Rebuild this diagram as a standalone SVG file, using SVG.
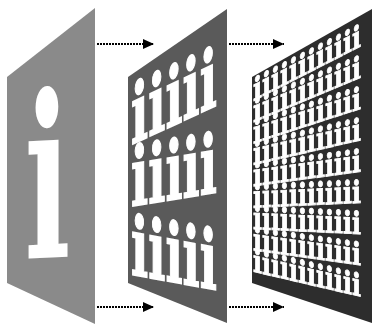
<svg xmlns="http://www.w3.org/2000/svg" width="373" height="324" viewBox="0 0 373 324">
<style>
.lt{font-family:"DejaVu Serif","Liberation Serif",serif;font-weight:bold;fill:#fff;stroke:#fff;stroke-linejoin:miter}
.r1{stroke-width:0}
.r2{font-size:82px;stroke-width:1.6px}
.r3{font-size:31px;stroke-width:0.9px}
.arw{stroke:#000;stroke-width:2;stroke-dasharray:2 1;fill:none}
</style>
<defs>
<marker id="ah" markerWidth="11" markerHeight="10" refX="11" refY="5" orient="auto" markerUnits="userSpaceOnUse">
<path d="M0,0 L11,5 L0,10 Z" fill="#000"/>
</marker>
<filter id="gray" x="0" y="0" width="373" height="324" filterUnits="userSpaceOnUse"><feOffset dx="0" dy="0"/></filter>
</defs>
<rect width="373" height="324" fill="#fff"/>
<g id="panel1">
<polygon points="7,77 95,8 95,324 7,283" fill="#8a8a8a"/>
<g transform="translate(51,42.5) matrix(1,-0.05,0,1,0,0)">
<text class="lt r1" x="-3.5" y="215" font-size="226" text-anchor="middle" textLength="46" lengthAdjust="spacingAndGlyphs">i</text>
</g>
</g>
<g id="panel2">
<polygon points="128,77 227,9 227,323 128,283" fill="#5a5a5a"/>
<g>
<g transform="translate(177.5,43) matrix(1,-0.46,0,1,0,0)"><text class="lt r2" x="-46.5" y="80.6" textLength="86" lengthAdjust="spacingAndGlyphs">iiiii</text></g>
<g transform="translate(177.5,43) matrix(1,-0.164,0,1,0,0)"><text class="lt r2" x="-46.5" y="156" textLength="86" lengthAdjust="spacingAndGlyphs">iiiii</text></g>
<g transform="translate(177.5,43) matrix(1,0.18,0,1,0,0)"><text class="lt r2" x="-46.5" y="240" textLength="86" lengthAdjust="spacingAndGlyphs">iiiii</text></g>
</g>
</g>
<g id="panel3">
<polygon points="252,77 372,9 372,323 252,283" fill="#2d2d2d"/>
<g filter="url(#gray)">
<g transform="translate(312,43) matrix(1,-0.509,0,1,0,0)"><text class="lt r3" x="-59" y="28.1" textLength="108" lengthAdjust="spacingAndGlyphs">iiiiiiiiiiii</text></g>
<g transform="translate(312,43) matrix(1,-0.417,0,1,0,0)"><text class="lt r3" x="-59" y="54.9" textLength="108" lengthAdjust="spacingAndGlyphs">iiiiiiiiiiii</text></g>
<g transform="translate(312,43) matrix(1,-0.324,0,1,0,0)"><text class="lt r3" x="-59" y="81.6" textLength="108" lengthAdjust="spacingAndGlyphs">iiiiiiiiiiii</text></g>
<g transform="translate(312,43) matrix(1,-0.231,0,1,0,0)"><text class="lt r3" x="-59" y="108.4" textLength="108" lengthAdjust="spacingAndGlyphs">iiiiiiiiiiii</text></g>
<g transform="translate(312,43) matrix(1,-0.138,0,1,0,0)"><text class="lt r3" x="-59" y="135.2" textLength="108" lengthAdjust="spacingAndGlyphs">iiiiiiiiiiii</text></g>
<g transform="translate(312,43) matrix(1,-0.046,0,1,0,0)"><text class="lt r3" x="-59" y="162" textLength="108" lengthAdjust="spacingAndGlyphs">iiiiiiiiiiii</text></g>
<g transform="translate(312,43) matrix(1,0.047,0,1,0,0)"><text class="lt r3" x="-59" y="188.8" textLength="108" lengthAdjust="spacingAndGlyphs">iiiiiiiiiiii</text></g>
<g transform="translate(312,43) matrix(1,0.14,0,1,0,0)"><text class="lt r3" x="-59" y="215.5" textLength="108" lengthAdjust="spacingAndGlyphs">iiiiiiiiiiii</text></g>
<g transform="translate(312,43) matrix(1,0.233,0,1,0,0)"><text class="lt r3" x="-59" y="242.3" textLength="108" lengthAdjust="spacingAndGlyphs">iiiiiiiiiiii</text></g>
</g>
</g>
<g id="connectors">
<line class="arw" x1="97" y1="44" x2="154" y2="44" marker-end="url(#ah)"/>
<line class="arw" x1="97" y1="307" x2="154" y2="307" marker-end="url(#ah)"/>
<line class="arw" x1="229" y1="44" x2="284" y2="44" marker-end="url(#ah)"/>
<line class="arw" x1="229" y1="307" x2="284" y2="307" marker-end="url(#ah)"/>
</g>
</svg>
